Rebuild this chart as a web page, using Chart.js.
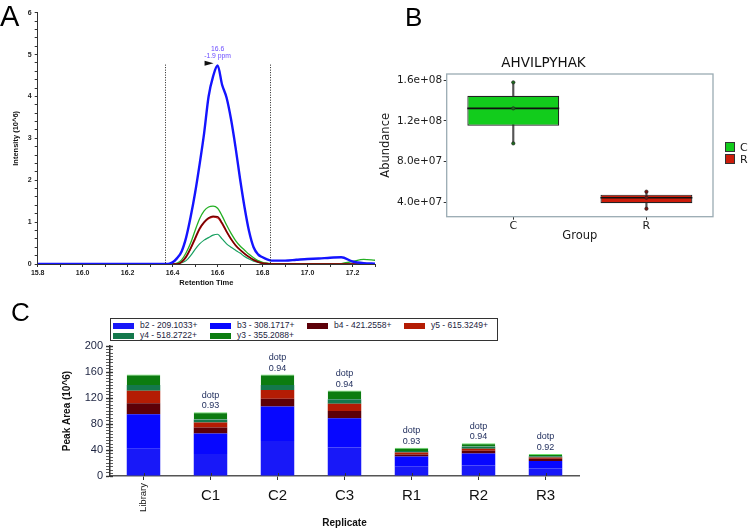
<!DOCTYPE html>
<html>
<head>
<meta charset="utf-8">
<title>AHVILPYHAK</title>
<script src="https://cdn.jsdelivr.net/npm/chart.js@4.4.0/dist/chart.umd.min.js"></script>
<style>
  body { margin: 0; background: #fff; }
  #page { position: relative; width: 748px; height: 532px; overflow: hidden; font-family: "Liberation Sans", Arial, sans-serif; }
  .pane { position: absolute; }
  .tag { position: absolute; line-height: 1; color: #000; }
  #legC { position: absolute; left: 110px; top: 318px; width: 386px; height: 21px; border: 1px solid #333; background: #fff; font-size: 8.5px; color: #1c2340; }
  #legC .it { position: absolute; white-space: nowrap; line-height: 9px; }
  #legC .sw { display: inline-block; width: 21px; height: 6px; margin-right: 6px; vertical-align: middle; }
  #legB { position: absolute; left: 725px; top: 142px; font-family: "DejaVu Sans", sans-serif; font-size: 11px; color: #1a1a1a; }
  #legB .it { height: 12px; line-height: 12px; white-space: nowrap; }
  #legB .sw { display: inline-block; width: 8px; height: 8px; border: 1px solid #333; margin-right: 5px; vertical-align: -1px; }
</style>
</head>
<body>
<div id="page">
  <div class="pane" style="left:0;top:0;width:380px;height:295px"><canvas id="chromChart" width="380" height="295"></canvas></div>
  <div class="pane" style="left:374px;top:0;width:374px;height:262px"><canvas id="boxChart" width="374" height="262"></canvas></div>
  <div class="pane" style="left:0;top:300px;width:620px;height:232px"><canvas id="areaChart" width="620" height="232"></canvas></div>
  <div id="legC"></div>
  <div id="legB"></div>
  <div class="tag" style="left:0;top:2px;font-size:29px">A</div>
  <div class="tag" style="left:405px;top:4px;font-size:26px">B</div>
  <div class="tag" style="left:11px;top:299px;font-size:26px">C</div>
</div>

<script>
// ---- A: chromatogram ----
var rtTimes = [15.8, 16.38, 16.40, 16.42, 16.44, 16.46, 16.48, 16.50, 16.52, 16.54, 16.56, 16.58, 16.60, 16.62, 16.64, 16.66, 16.68, 16.70, 16.72, 16.74, 16.76, 16.78, 16.80, 16.82, 16.84, 16.90, 16.95, 17.00, 17.05, 17.10, 17.15, 17.20, 17.25, 17.30];
var traceB2 = [0, 0, 0.04, 0.14, 0.3, 0.63, 1.12, 1.7, 2.38, 3.12, 4.0, 4.48, 4.74, 4.28, 3.97, 3.45, 2.78, 2.03, 1.35, 0.78, 0.4, 0.23, 0.16, 0.11, 0.08, 0.08, 0.1, 0.12, 0.13, 0.15, 0.16, 0.06, 0.02, 0.01];
var traceB4 = [0, 0, 0, 0, 0.05, 0.18, 0.38, 0.62, 0.85, 1.0, 1.1, 1.14, 1.13, 0.98, 0.78, 0.6, 0.45, 0.34, 0.25, 0.17, 0.1, 0.05, 0.02, 0.01, 0, 0, 0, 0, 0, 0, 0, 0, 0, 0];
var traceY5 = [0, 0, 0, 0, 0.04, 0.15, 0.35, 0.58, 0.82, 0.98, 1.08, 1.12, 1.1, 0.95, 0.76, 0.58, 0.44, 0.33, 0.24, 0.16, 0.09, 0.05, 0.02, 0.01, 0, 0, 0, 0, 0, 0, 0, 0, 0, 0];
var traceY4 = [0, 0, 0, 0, 0.03, 0.08, 0.2, 0.35, 0.48, 0.57, 0.63, 0.69, 0.71, 0.6, 0.48, 0.4, 0.33, 0.26, 0.18, 0.12, 0.07, 0.04, 0.02, 0.01, 0, 0, 0, 0, 0, 0, 0, 0, 0, 0];
var traceY3 = [0, 0, 0, 0.02, 0.1, 0.27, 0.5, 0.8, 1.08, 1.27, 1.36, 1.38, 1.33, 1.15, 0.93, 0.73, 0.56, 0.43, 0.33, 0.23, 0.15, 0.08, 0.04, 0.02, 0.01, 0, 0, 0, 0, 0, 0.01, 0.06, 0.11, 0.09];
var peakBounds = [16.364, 16.833];
var apexTime = 16.6;
var apexText = ['16.6', '-1.9 ppm'];

// ---- B: box plot ----
var groups = ['C', 'R'];
var groupFill = ['#12cc1c', '#cc1c0a'];
var groupDot = ['#1d6b1d', '#7a1410'];
var groupPoints = [[1.577e8, 1.322e8, 9.78e7], [5.04e7, 4.45e7, 3.37e7]];
var groupQ1 = [1.151e8, 3.9e7];
var groupQ3 = [1.446e8, 4.75e7];
var abundanceTicks = [4e7, 8e7, 1.2e8, 1.6e8];

// ---- C: stacked peak areas ----
var replicates = ['Library', 'C1', 'C2', 'C3', 'R1', 'R2', 'R3'];
var areaB2 = [42, 34, 54, 44, 15, 16, 11.5];
var areaB3 = [53, 31.5, 53, 45, 15, 18.5, 11.5];
var areaB4 = [17, 9, 12, 11, 3, 4.5, 3.5];
var areaY5 = [19, 8, 13.5, 11, 3, 3, 2];
var areaY4 = [9, 4.5, 7.5, 7, 2.5, 3.5, 2];
var areaY3 = [16, 11, 16, 13.5, 5, 5, 3.5];
var dotpScores = ['', '0.93', '0.94', '0.94', '0.93', '0.94', '0.92'];
var transitionNames = ['b2 - 209.1033+', 'b3 - 308.1717+', 'b4 - 421.2558+', 'y5 - 615.3249+', 'y4 - 518.2722+', 'y3 - 355.2088+'];
var transitionColors = ['#1818f8', '#0707ff', '#5c0008', '#b41c04', '#14784c', '#0c7c10'];

var SANS = '"Liberation Sans", Arial, sans-serif';
var DJ = '"DejaVu Sans", sans-serif';

function pts(ys) {
	return rtTimes.map(function (t, i) { return { x: t, y: ys[i] }; });
}
function lineSet(label, ys, color, w) {
	return { label: label, data: pts(ys), borderColor: color, borderWidth: w, pointRadius: 0, fill: false, cubicInterpolationMode: 'monotone' };
}

// dotted integration bounds + apex annotation
var peakMarks = {
	id: 'peakMarks',
	afterDatasetsDraw: function (chart) {
		var ctx = chart.ctx, xs = chart.scales.x, ys = chart.scales.y;
		var apexY = ys.getPixelForValue(Math.max.apply(null, traceB2) + 0.02);
		ctx.save();
		ctx.strokeStyle = '#222';
		ctx.lineWidth = 1;
		ctx.setLineDash([1, 1.5]);
		peakBounds.forEach(function (b) {
			var x = Math.round(xs.getPixelForValue(b)) + 0.5;
			ctx.beginPath();
			ctx.moveTo(x, apexY);
			ctx.lineTo(x, ys.getPixelForValue(0));
			ctx.stroke();
		});
		ctx.setLineDash([]);
		var ax = xs.getPixelForValue(apexTime);
		ctx.fillStyle = '#111';
		ctx.beginPath();
		ctx.moveTo(ax - 13, apexY - 4);
		ctx.lineTo(ax - 4, apexY - 1.5);
		ctx.lineTo(ax - 13, apexY + 1);
		ctx.closePath();
		ctx.fill();
		ctx.fillStyle = '#6a4cff';
		ctx.font = '6.8px ' + SANS;
		ctx.textAlign = 'center';
		ctx.textBaseline = 'middle';
		ctx.fillText(apexText[0], ax, apexY - 16);
		ctx.fillText(apexText[1], ax, apexY - 9);
		ctx.restore();
	}
};

new Chart(document.getElementById('chromChart'), {
	type: 'line',
	data: {
		datasets: [
			lineSet('b2', traceB2, '#1414ff', 2.4),
			lineSet('b4', traceB4, '#7a0000', 1.6),
			lineSet('y5', traceY5, '#cc2222', 1.2),
			lineSet('y3', traceY3, '#24b024', 1.3),
			lineSet('y4', traceY4, '#18a060', 1.2)
		]
	},
	options: {
		responsive: false,
		animation: false,
		devicePixelRatio: 1,
		layout: { padding: { top: 12.7, right: 5, left: 0, bottom: 0 } },
		plugins: { legend: { display: false }, tooltip: { enabled: false } },
		scales: {
			x: {
				type: 'linear', min: 15.8, max: 17.3,
				afterFit: function (s) { s.height = 31; },
				ticks: {
					stepSize: 0.1, autoSkip: false, maxRotation: 0, padding: 2,
					color: '#222', font: { family: SANS, size: 7, weight: 'bold' },
					callback: function (v) { return Math.round(v * 10) % 2 === 0 ? v.toFixed(1) : ''; }
				},
				grid: { drawOnChartArea: false, tickLength: 3, color: '#333' },
				border: { color: '#333' },
				title: { display: true, text: 'Retention Time', color: '#111', font: { family: SANS, size: 7.5, weight: 'bold' }, padding: { top: 0, bottom: 7.5 } }
			},
			y: {
				min: 0, max: 6,
				afterFit: function (s) { s.width = 37.7; },
				ticks: {
					stepSize: 0.2, autoSkip: false, padding: 3,
					color: '#222', font: { family: SANS, size: 7, weight: 'bold' },
					callback: function (v) { return Math.abs(v - Math.round(v)) < 1e-6 ? Math.round(v) : ''; }
				},
				grid: { drawOnChartArea: false, tickLength: 3, color: '#333' },
				border: { color: '#333' },
				title: { display: true, text: 'Intensity (10^6)', color: '#111', font: { family: SANS, size: 7.5, weight: 'bold' }, padding: { top: 11, bottom: 0 } }
			}
		}
	},
	plugins: [peakMarks]
});

// ---- B ----
var boxFrame = {
	id: 'boxFrame',
	beforeDatasetsDraw: function (chart) {
		var a = chart.chartArea, ctx = chart.ctx;
		ctx.save();
		ctx.strokeStyle = '#9aabb3';
		ctx.lineWidth = 1.3;
		ctx.strokeRect(a.left, a.top, a.right - a.left, a.bottom - a.top);
		ctx.restore();
	},
	afterDatasetDraw: function (chart, args) {
		if (args.index !== 1) return;
		var ctx = chart.ctx, ys = chart.scales.y;
		var meta = chart.getDatasetMeta(1);
		ctx.save();
		ctx.strokeStyle = '#111';
		ctx.lineWidth = 1.6;
		meta.data.forEach(function (el, i) {
			var sorted = groupPoints[i].slice().sort(function (p, q) { return p - q; });
			var y = ys.getPixelForValue(sorted[1]);
			ctx.beginPath();
			ctx.moveTo(el.x - el.width / 2, y);
			ctx.lineTo(el.x + el.width / 2, y);
			ctx.stroke();
		});
		ctx.restore();
	}
};

var pointData = [];
var pointColors = [];
groups.forEach(function (g, i) {
	groupPoints[i].forEach(function (v) {
		pointData.push({ x: g, y: v });
		pointColors.push(groupDot[i]);
	});
});

new Chart(document.getElementById('boxChart'), {
	type: 'bar',
	data: {
		labels: groups,
		datasets: [
			{
				label: 'whisker',
				data: groupPoints.map(function (p) { return [Math.min.apply(null, p), Math.max.apply(null, p)]; }),
				backgroundColor: '#555', barThickness: 1.5, grouped: false, order: 3
			},
			{
				label: 'box',
				data: groups.map(function (g, i) { return [groupQ1[i], groupQ3[i]]; }),
				backgroundColor: groupFill, borderColor: '#222', borderWidth: 1.2, borderSkipped: false,
				barPercentage: 0.69, categoryPercentage: 1, grouped: false, order: 2
			},
			{
				type: 'scatter', label: 'replicates', data: pointData,
				pointRadius: 1.7, pointBackgroundColor: pointColors, pointBorderColor: '#222', pointBorderWidth: 0.6, order: 0
			}
		]
	},
	options: {
		responsive: false,
		animation: false,
		devicePixelRatio: 1,
		layout: { padding: { top: 0, right: 35, left: 0, bottom: 0 } },
		plugins: {
			legend: { display: false }, tooltip: { enabled: false },
			title: { display: true, text: 'AHVILPYHAK', color: '#111', font: { family: DJ, size: 13.5, weight: 'normal' }, padding: { top: 55, bottom: 2.8 } }
		},
		scales: {
			x: {
				type: 'category',
				afterFit: function (s) { s.height = 45.3; },
				ticks: { color: '#1a1a1a', padding: 0, font: { family: DJ, size: 11 } },
				grid: { drawOnChartArea: false, offset: false, tickLength: 3, color: '#333' },
				border: { display: false },
				title: { display: true, text: 'Group', color: '#1a1a1a', font: { family: DJ, size: 11.5 }, padding: { top: 0, bottom: 19 } }
			},
			y: {
				min: 2.585e7, max: 1.659e8,
				afterFit: function (s) { s.width = 72.7; },
				afterBuildTicks: function (s) { s.ticks = abundanceTicks.map(function (v) { return { value: v }; }); },
				ticks: {
					color: '#1a1a1a', padding: 1.5, font: { family: DJ, size: 10.5 },
					callback: function (v) { return v.toExponential(1).replace(/e\+(\d)$/, 'e+0$1'); }
				},
				grid: { drawOnChartArea: false, tickLength: 3, color: '#333' },
				border: { display: false },
				title: { display: true, text: 'Abundance', color: '#1a1a1a', font: { family: DJ, size: 11.5 }, padding: { top: 5, bottom: 0 } }
			}
		}
	},
	plugins: [boxFrame]
});

var legB = document.getElementById('legB');
groups.forEach(function (g, i) {
	var d = document.createElement('div');
	d.className = 'it';
	d.innerHTML = '<span class="sw" style="background:' + groupFill[i] + '"></span>' + g;
	legB.appendChild(d);
});

// ---- C ----
var areaSeries = [areaB2, areaB3, areaB4, areaY5, areaY4, areaY3];

var dotpLabels = {
	id: 'dotpLabels',
	afterDatasetsDraw: function (chart) {
		var ctx = chart.ctx;
		var top = chart.getDatasetMeta(areaSeries.length - 1);
		var xs = chart.scales.x, ys = chart.scales.y, a = chart.chartArea;
		ctx.save();
		// inner halves of the tick marks (they cross the axis lines)
		ctx.strokeStyle = '#333';
		ys.ticks.forEach(function (t) {
			var y = Math.round(ys.getPixelForValue(t.value)) + 0.5;
			ctx.lineWidth = t.value % 40 === 0 ? 1.4 : 0.8;
			ctx.beginPath();
			ctx.moveTo(a.left, y);
			ctx.lineTo(a.left + 3, y);
			ctx.stroke();
		});
		ctx.lineWidth = 1;
		replicates.forEach(function (r, i) {
			var x = Math.round(xs.getPixelForValue(i)) + 0.5;
			ctx.beginPath();
			ctx.moveTo(x, a.bottom);
			ctx.lineTo(x, a.bottom - 3);
			ctx.stroke();
		});
		ctx.fillStyle = '#1c2a5a';
		ctx.font = '9px ' + SANS;
		ctx.textAlign = 'center';
		ctx.textBaseline = 'middle';
		top.data.forEach(function (el, i) {
			if (!dotpScores[i]) return;
			ctx.fillText('dotp', el.x, el.y - 17);
			ctx.fillText(dotpScores[i], el.x, el.y - 6.5);
		});
		// rotated library tick label
		ctx.fillStyle = '#111';
		ctx.font = '9.5px ' + SANS;
		ctx.translate(xs.getPixelForValue(0), a.bottom + 7);
		ctx.rotate(-Math.PI / 2);
		ctx.textAlign = 'right';
		ctx.fillText(replicates[0], 0, 0);
		ctx.restore();
	}
};

new Chart(document.getElementById('areaChart'), {
	type: 'bar',
	data: {
		labels: replicates,
		datasets: areaSeries.map(function (vals, k) {
			var last = k === areaSeries.length - 1;
			return {
				label: transitionNames[k], data: vals, backgroundColor: transitionColors[k],
				borderColor: last ? '#6ee06e' : transitionColors[k], borderWidth: last ? { top: 1 } : 0, borderSkipped: false,
				stack: 'area', barPercentage: 0.5, categoryPercentage: 1
			};
		})
	},
	options: {
		responsive: false,
		animation: false,
		devicePixelRatio: 1,
		layout: { padding: { top: 46, right: 41, left: 0, bottom: 0 } },
		plugins: { legend: { display: false }, tooltip: { enabled: false } },
		scales: {
			x: {
				stacked: true,
				afterFit: function (s) { s.height = 56; },
				ticks: {
					color: '#111', padding: 7, maxRotation: 0, autoSkip: false, font: { family: SANS, size: 15 },
					callback: function (v, i) { return i === 0 ? '' : replicates[i]; }
				},
				grid: { drawOnChartArea: false, offset: false, tickLength: 4, color: '#333' },
				border: { color: '#555', width: 1.5 },
				title: { display: true, text: 'Replicate', color: '#111', font: { family: SANS, size: 10, weight: 'bold' }, padding: { top: 0, bottom: 3 } }
			},
			y: {
				stacked: true, min: 0, max: 200,
				afterFit: function (s) { s.width = 110; },
				ticks: {
					stepSize: 5, autoSkip: false, padding: 3, color: '#1c2340', font: { family: SANS, size: 11 },
					callback: function (v) { return v % 40 === 0 ? v : ''; }
				},
				grid: {
					drawOnChartArea: false, tickLength: 4, color: '#333',
					tickWidth: function (c) { return c.tick && c.tick.value % 40 === 0 ? 1.4 : 0.8; }
				},
				border: { color: '#333', width: 1.5 },
				title: { display: true, text: 'Peak Area (10^6)', color: '#111', font: { family: SANS, size: 10, weight: 'bold' }, padding: { top: 61, bottom: 0 } }
			}
		}
	},
	plugins: [dotpLabels]
});

var legC = document.getElementById('legC');
transitionNames.forEach(function (name, i) {
	var d = document.createElement('div');
	d.className = 'it';
	d.style.left = (2 + (i % 4) * 97) + 'px';
	d.style.top = (2 + Math.floor(i / 4) * 10) + 'px';
	d.innerHTML = '<span class="sw" style="background:' + transitionColors[i] + '"></span>' + name;
	legC.appendChild(d);
});
</script>
</body>
</html>
